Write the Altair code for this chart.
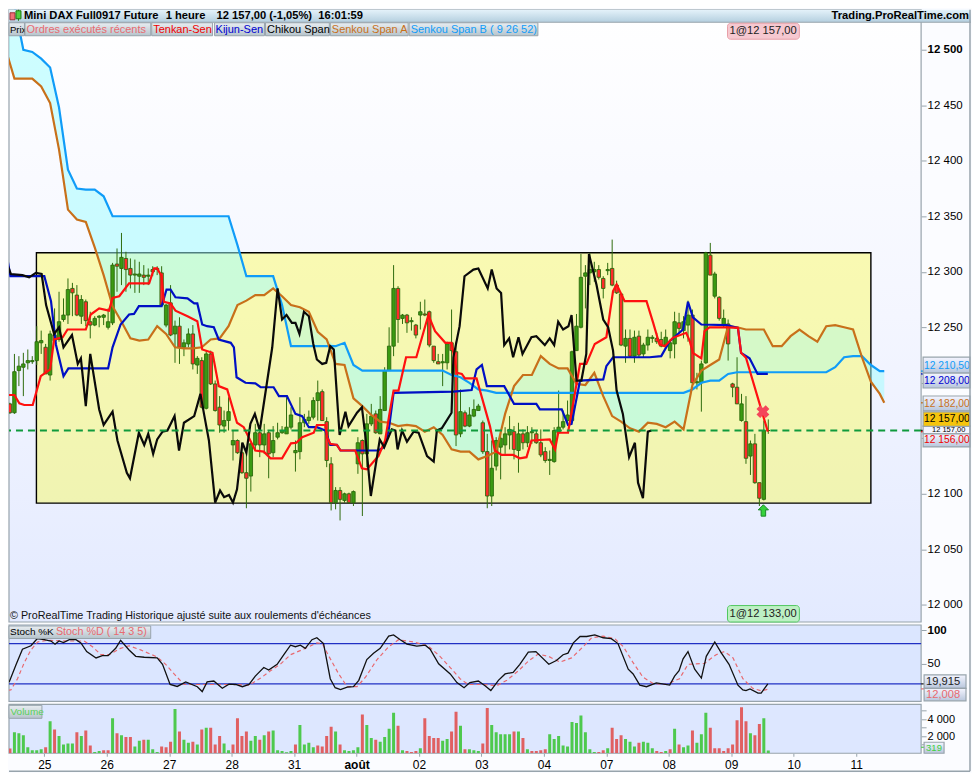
import altair as alt
import pandas as pd

opens = [12174,12181,12173,12211,12214,12218,12219,12220,12236,12232,
12207,12243,12239,12257,12261,12285,12279,12260,12273,12255,
12252,12259,12259,12250,12254,12307,12303,12312,12303,12297,
12296,12297,12296,12302,12302,12299,12252,12272,12244,12251,
12232,12235,12244,12216,12220,12177,12226,12199,12178,12161,
12166,12144,12148,12137,12119,12116,12144,12155,12144,12155,
12137,12151,12155,12154,12160,12137,12138,12164,12166,12169,
12184,12192,12165,12127,12092,12103,12094,12100,12092,12127,
12148,12136,12163,12172,12154,12175,12211,12233,12285,12258,
12261,12255,12252,12261,12262,12264,12233,12219,12218,12218,
12236,12228,12154,12173,12161,12170,12175,12164,12138,12098,
12125,12142,12144,12153,12156,12139,12154,12146,12155,12154,
12146,12138,12130,12129,12155,12160,12166,12166,12229,12250,
12296,12299,12300,12302,12294,12301,12303,12288,12280,12233,
12240,12224,12242,12226,12234,12240,12240,12239,12234,12229,
12235,12254,12247,12252,12261,12200,12200,12218,12315,12278,
12277,12252,12253,12199,12196,12166,12165,12134,12145,12110,
12095,12157]
closes = [12182,12173,12210,12215,12217,12220,12220,12237,12238,12208,
12244,12238,12255,12261,12284,12281,12261,12275,12256,12252,
12258,12260,12261,12255,12306,12305,12313,12302,12297,12298,
12298,12295,12297,12300,12303,12270,12270,12243,12251,12232,
12236,12244,12217,12222,12178,12226,12199,12175,12162,12166,
12174,12148,12137,12119,12114,12145,12155,12144,12154,12136,
12148,12155,12157,12160,12171,12139,12164,12167,12169,12184,
12191,12166,12130,12092,12103,12095,12100,12092,12102,12146,
12136,12163,12170,12155,12176,12211,12233,12285,12257,12261,
12254,12256,12243,12264,12261,12234,12220,12217,12219,12235,
12229,12153,12174,12161,12171,12176,12179,12138,12098,12123,
12148,12150,12154,12158,12140,12154,12146,12155,12156,12146,
12135,12130,12131,12157,12160,12165,12171,12228,12251,12295,
12299,12302,12302,12295,12285,12302,12288,12281,12234,12240,
12224,12241,12225,12234,12241,12241,12237,12233,12241,12236,
12255,12249,12255,12261,12200,12201,12217,12317,12297,12298,
12258,12258,12235,12196,12181,12181,12132,12145,12110,12096,
12157,12157]
highs = [12187,12182,12226,12224,12227,12230,12224,12251,12247,12235,
12247,12267,12282,12276,12294,12290,12288,12279,12275,12264,
12260,12261,12262,12267,12308,12321,12335,12318,12312,12311,
12309,12306,12303,12305,12305,12305,12271,12288,12256,12259,
12239,12249,12252,12224,12223,12229,12229,12202,12188,12175,
12187,12157,12149,12146,12140,12146,12163,12157,12163,12157,
12161,12164,12161,12187,12178,12148,12187,12172,12175,12187,
12202,12194,12169,12133,12106,12106,12101,12101,12103,12151,
12149,12172,12181,12175,12188,12214,12250,12306,12287,12262,
12262,12259,12253,12273,12275,12265,12233,12226,12226,12237,
12266,12237,12194,12175,12178,12185,12181,12166,12154,12148,
12151,12155,12160,12170,12161,12164,12158,12161,12160,12157,
12158,12142,12139,12160,12193,12175,12184,12229,12262,12316,
12306,12317,12309,12306,12296,12308,12329,12292,12281,12248,
12248,12247,12247,12236,12248,12243,12245,12246,12248,12239,
12264,12263,12260,12274,12266,12209,12220,12318,12326,12300,
12278,12266,12257,12200,12223,12190,12188,12148,12154,12110,
12166,12167]
lows = [12167,12172,12172,12197,12188,12212,12217,12216,12226,12208,
12202,12237,12237,12255,12253,12260,12260,12253,12251,12240,
12251,12250,12252,12248,12252,12282,12288,12282,12285,12281,
12281,12288,12288,12296,12297,12269,12250,12242,12218,12217,
12224,12232,12212,12208,12177,12176,12198,12174,12155,12155,
12157,12130,12136,12118,12087,12102,12139,12133,12136,12114,
12133,12149,12154,12154,12158,12120,12131,12160,12163,12167,
12166,12166,12124,12085,12086,12076,12092,12091,12089,12118,
12080,12124,12161,12154,12154,12175,12211,12224,12236,12253,
12245,12247,12240,12248,12260,12232,12218,12217,12197,12212,
12208,12143,12151,12160,12160,12169,12175,12136,12087,12089,
12121,12113,12136,12140,12131,12119,12140,12142,12145,12145,
12133,12128,12117,12128,12154,12158,12164,12164,12229,12249,
12267,12288,12291,12293,12276,12297,12287,12280,12233,12218,
12223,12218,12223,12223,12229,12236,12235,12232,12232,12222,
12222,12245,12240,12237,12199,12194,12174,12217,12297,12276,
12256,12250,12220,12187,12181,12165,12127,12117,12109,12089,
12094,12154]

cloud_x = [0,2,4,6,8,10,12,14,16,18,20,22,24,26,28,30,32,34,36,38,
40,42,44,46,48,50,52,54,56,58,60,62,64,66,68,70,72,74,76,78,
80,82,84,86,88,90,92,94,96,98,100,102,104,106,108,110,112,114,116,118,
120,122,124,126,128,130,132,134,136,138,140,142,144,146,148,150,152,154,156,158,
160,162,164,166,168,170,172,174,176,178,180,182,184,186,188,190,192,194,196,197]
senkou_a = [12501,12474,12474,12474,12467,12452,12410,12356,12347,12345,
12322,12297,12269,12255,12240,12238,12239,12251,12244,12232,
12231,12231,12232,12239,12240,12251,12270,12274,12279,12279,
12285,12278,12270,12268,12264,12246,12239,12217,12216,12186,
12179,12171,12165,12164,12161,12162,12161,12156,12160,12153,
12140,12138,12138,12131,12134,12138,12172,12197,12207,12207,
12224,12217,12213,12213,12199,12198,12209,12188,12170,12165,
12159,12156,12164,12163,12160,12165,12158,12198,12211,12216,
12221,12251,12250,12248,12248,12248,12233,12233,12242,12248,
12242,12237,12251,12252,12250,12248,12223,12201,12190,12182]
senkou_b = [12570,12540,12500,12498,12492,12484,12448,12392,12375,12374,
12374,12368,12350,12350,12350,12350,12350,12350,12350,12350,
12350,12350,12350,12350,12350,12350,12324,12296,12296,12296,
12296,12270,12233,12233,12233,12233,12233,12233,12236,12216,
12211,12211,12211,12211,12211,12211,12211,12211,12211,12211,
12207,12205,12200,12194,12193,12191,12191,12191,12191,12191,
12191,12191,12191,12191,12191,12191,12191,12191,12191,12191,
12191,12191,12191,12191,12191,12191,12191,12194,12200,12202,
12202,12208,12209.5,12209.5,12209.5,12209.5,12209.5,12209.5,12209.5,12209.5,
12209.5,12209.5,12209.5,12214,12223,12224,12224,12216,12210.5,12210.5]

tenkan_x = [-1,2,3.1,4.2,6.1,7.9,10,10.9,12.8,13.9,18,19.1,21,23.2,24,25.5,27.7,32.2,33.3,34,35,35.5,37,38.1,40.8,43,44.1,46.4,47.8,49.7,51.9,53.4,56,57.9,59.4,62,64,65.2,66.5,69.1,69.8,
71.7,72.1,72.8,74.3,75.1,78.4,79.9,81,83.6,85.1,86.2,87,88.1,89.8,92.1,94.8,96.3,98.6,100,101.2,102.3,103,105.6,108.6,109.7,111.2,113.8,115.3,116.8,117.9,122,123.2,123.9,126.1,128.8,130.2,132.1,134.7,136.2,137,138.8,143.7,
145.2,146.6,147.8,149.6,152.6,153.4,154.1,156,156.7,157.8,161.9,164.2,164.9,166,170.9]
tenkan_y = [12189,12189,12181.5,12180,12180,12206,12212,12239,12241,12248,12248,12261.5,12267,12265,12276.5,12278,12289.5,12289.5,12303,12303,12296,12273,12271.5,12265,12260,12255.5,12230,12227,12197,12194,12164,12160,12139,12138,12132,12132,12145.5,12146,12151,12155,12162,
12162,12151,12145,12144,12139,12139,12123,12122,12134,12148,12175,12193,12193,12223,12223,12261,12246.5,12236,12236,12209,12208,12204,12204,12161,12139,12135,12135,12132,12133,12148,12149,12140,12155,12155,12217,12217,12235,12241,12282.5,12288.5,12273.5,12273.5,
12254,12234.5,12233,12240.5,12245,12237.5,12227,12222,12246.5,12250,12250,12249.5,12227,12222.5,12156]

kijun_x = [-1,-0.25,1.1,8.7,10.2,11.3,13,14.1,23,24,25.8,27.7,28.8,29.9,35,36.1,37,38.1,40.8,42.3,43,44.1,45.2,46.7,47.8,50.5,51.2,51.8,53.8,56,57.2,60.1,61.3,63.1,65,66.5,68,69.8,71.7,72.8,
74.3,75.1,83.6,84.8,85.9,87,100.4,104.5,105.6,106.8,107.9,111.8,114,119,119.8,124.7,126.1,126.9,128.8,134,134.7,136.2,144.4,
147,148.9,151.9,153,154.1,156,161.6,164.2,164.9,166.8,168.6,170.9]
kijun_y = [12338,12327,12296,12296,12273.5,12234.5,12206,12213,12213,12232,12252.5,12261.5,12262,12269,12269,12284,12284,12277,12276,12271.5,12271.5,12252.5,12251,12250,12239,12236,12232,12205,12200,12199.5,12196,12196,12188,12188,12172,12170,12160,12160,12157,12144,
12144,12139,12139,12142,12157,12191,12192,12193.5,12212,12216,12197,12197,12181,12181,12176,12176,12162,12163,12202,12203,12215,12223,12223,
12224,12237.5,12248,12273,12259,12252.5,12252,12249.5,12227,12222,12208,12208]

chikou_x = [-1,-0.1,1.2,3.8,5.3,6.8,8.1,9.1,10.9,12,13,14.9,16.2,16.9,18,19,21,22,24,25.1,27.2,27.9,29.9,31.1,32,33.1,34,35.2,36.3,37.9,38.9,40,42.3,43.7,44.5,45.6,47,48.1,49,50.1,51,51.9,53.1,54,54.9,55.9,57,59.8,61,62,63,64.2,65,65.9,66.9,68,69,69.8,71,71.9,72.8,
73.6,74.9,76.2,76.9,78.8,79.9,80.7,81.9,83.9,84.9,86.6,87.4,87.9,88.9,90,91.5,92.6,94.5,96,96.7,97.8,100,100.4,101.8,102.9,104.9,106,108.1,109,110.1,111.1,111.8,112.9,113.8,115,115.9,117.9,119,120.9,122,123,123.9,125,126.2,126.9,128,129.1,130.2,130.8,132.5,134,135.1,136.2,137,138.4,139.8,141.1,141.8,142.9,144,144.8]
chikou_y = [12305,12312,12298,12297,12295,12299,12298,12270,12244,12250,12232,12243,12217,12222,12179,12226,12176,12162,12174,12148,12119,12114,12155,12144,12154,12136,12149,12156,12157,12170,12139,12164,12170,12190,12172,12148,12092,12103,12097,12099,12092,12104,12146,12137,12163,12172,12157,12232,12285,12257,12261,12254,12254,12244,12264,12260,12235,12221,12217,12218,12233,
12230,12153,12174,12161,12173,12178,12151,12098,12149,12142,12158,12157,12140,12157,12147,12156,12155,12134,12129,12157,12159,12173,12223,12251,12296,12302,12303,12285,12302,12285,12281,12234,12240,12223,12241,12226,12241,12242,12234,12240,12234,12255,12248,12251,12261,12202,12202,12226,12316,12288,12257,12250,12229,12193,12172,12133,12146,12110,12096,12156,12157]

stoch_k_x = [-1,0.9,2.4,3.8,5.7,7.1,8.7,10.2,11.1,12,13,14.3,15.8,16.9,18.2,20.3,21.7,23,24.7,25.8,27.7,29.2,31.1,34,35.2,36.9,38.5,40.4,43,44.1,45.2,46.7,48.6,50.1,51.6,53.1,54.6,56,57.9,59,60.9,62.4,63.9,65,66.1,67.2,68.7,69.8,71.3,72.8,73.9,75.1,76.6,78,79.2,81,82.5,84,85.9,87,88.5,
90,92.2,94.1,95.2,97.1,99.7,101.2,102.8,104.1,106,107.5,108.8,110.5,112,113.8,115.3,117.2,118.9,121.8,123.5,125,126.1,127.3,128.8,130.3,132.1,134,135.8,137.3,139.6,140.7,142.2,143.7,145.9,148.9,150,151,151.9,153,154.5,156,157.1,159,160.5,162.2,164.2,165.3,166,166.9,168.7,169.4,170.9]
stoch_k_y = [9.6,23.9,49.1,71.5,76.7,87.2,85.7,83.8,79.1,83.8,81.4,85.7,85.7,81,68.1,58.6,61.9,61.9,72.9,84.8,70.5,61,59.6,58.6,49.1,19.1,16.2,22.9,15.8,8.6,22.9,24.3,13.4,19.6,19.1,15.8,19.1,31.5,44.3,40.5,49.1,63.4,77.6,75.3,77.6,72.9,85.7,88.6,80,27.7,14.3,11.5,15.3,15.8,25.3,56.2,65.7,72.9,91,92.9,85.7,
79.1,76.2,77.6,71.5,50,34.8,22,14.3,22,24.3,17.2,10,25.3,34.8,37.2,49.1,67.2,68.1,49.1,54.8,63.4,65.7,81,90.5,90.5,92.9,88.6,87.2,80,41.9,34.8,18.1,15.8,21.5,18.1,31.5,39.6,57.2,68.1,41.9,28.6,61,82.4,65.7,49.1,18.1,11,10,12.4,6.2,6.2,19.9]
stoch_d_x = [-1,1.2,2.7,4.2,5.7,7.2,9.4,13.9,17.6,19.5,21.4,23.2,25.8,27.7,30.3,34,35.9,37.8,40,43.7,48.2,51.2,54.6,57.2,59.4,61.6,63.9,66.9,69.8,71,72.5,74.7,76.6,78.8,80.7,83.3,85.9,88.1,
91.5,94.8,97.4,99.7,101.9,103.8,107.1,110.1,112.4,115,117.2,119.4,121.7,124.3,126.9,129.5,131.4,134,136.6,138.5,140.7,142.9,145.2,148.1,151.1,153,156.7,159.3,161.2,163.1,165.3,167.5,169.4,170.9]
stoch_d_y = [9.6,11,27.7,51.5,70.5,82.4,84.8,83.8,83.8,75.3,63.4,63.4,72.9,76.7,70.5,60,49.1,34.8,19.1,19.1,19.1,19.1,18.1,28.6,39.6,49.1,63.4,71.9,81,80,61,34.8,15.8,15.8,30,56.2,75.3,85.7,
82.4,76.2,61,44.3,27.7,19.1,19.1,17.2,25.3,39.6,53.8,64.3,61,52.4,58.6,75.3,88.6,91,87.2,75.3,51.5,30,20.5,19.1,27.7,49.1,50.5,63.4,68.1,58.6,27.7,13.4,9.6,12]

volumes = [1028,550,2459,2349,2129,697,367,367,477,697,
3780,2789,2019,1028,1138,1138,2459,2019,2679,918,
147,257,367,367,4110,2349,2129,1908,1908,807,
1468,1578,1578,477,147,807,697,1358,5211,2569,
1578,1248,1358,1028,2789,3009,3009,1028,2019,1138,
367,1028,4110,2019,2569,1468,2019,1578,2129,2569,
2679,367,257,110,257,1028,3340,1028,1248,697,
918,807,2019,3120,2569,1028,367,257,367,697,
4551,3340,1798,1578,1358,1908,2899,4771,3230,
367,257,147,257,587,4110,2019,1798,1798,1468,
1688,2569,4881,3230,477,477,367,257,1138,5322,
3340,2459,2239,2239,2239,2569,2569,1798,477,257,
257,367,477,2239,1688,2019,918,807,3670,3560,
4441,2459,477,147,147,367,587,3009,1688,2129,
1688,1358,807,1248,1358,1248,587,257,147,257,
477,2899,1028,697,918,2679,1248,2239,4771,3009,
587,587,257,587,1028,3890,5432,3780,2349,2129,
3450,4110,319]
vol_dirs = ("GRGGGGGGGR" "GRGGGGRGRR" "GGRRGRGRRG" "GRGGGRRRGR" "GGRGRGRRRG" "GRRRRGGRGR" "GGGGGRGGGG" "RRRRGRGGGG" "RGGRGGGGR"
            "GRRRGRRRRG" "GRRGRGGGRR" "GGGGGRGRGR" "RRRGGGGGGG" "GGGGRRGRRR" "GGGRGGGRRG" "RGRGGRGGGR" "RRRRRRRRGR" "RGG")

day_ticks = [8.7,22.7,36.7,50.7,64.7,78.7,92.7,106.7,120.7,134.7,148.7,162.7,176.7,190.7]
day_labels = ['25','26','27','28','31','août','02','03','04','07','08','09','10','11']
price_ticks = [12500,12450,12400,12350,12300,12250,12200,12150,12100,12050,12000]

FONT = 'Liberation Sans'
GRAY = '#98a4ac'
RIGHT = 963
ST_H = 76.5
VO_H = 49
bars = pd.DataFrame({'i': list(range(len(opens))), 'o': opens, 'c': closes, 'h': highs, 'l': lows})
bars['dir'] = ['G' if c >= o else 'R' for o, c in zip(opens, closes)]
cloud = pd.DataFrame({'i': cloud_x, 'A': senkou_a, 'B': senkou_b})
cloud['top'] = cloud[['A', 'B']].max(axis=1)
vol = pd.DataFrame({'i': list(range(len(volumes))), 'v': volumes, 'dir': list(vol_dirs)})

x_scale = alt.Scale(domain=[0.783, 205.26], nice=False, zero=False, padding=0)
py = alt.Scale(domain=[11984.5, 12536], nice=False, zero=False)
sy = alt.Scale(domain=[-6, 107.57], nice=False, zero=False)
vy = alt.Scale(domain=[0, 5760], nice=False, zero=False)
X = alt.X('i:Q', scale=x_scale, axis=None)
one = pd.DataFrame({'a': [0]})

yaxis = alt.Axis(orient='right', values=price_ticks, title=None, grid=False, domain=False, tickColor=GRAY, tickSize=5,
                 labelFont=FONT, labelFontSize=11.5, labelColor='black', labelPadding=1,
                 labelFontWeight=alt.condition('datum.value == 12500', alt.value('bold'), alt.value('normal')),
                 labelExpr="datum.value == 12200 || datum.value == 12150 ? '' : replace(format(datum.value, ','), ',', ' ')")
st_axis = alt.Axis(orient='right', values=[50, 100], title=None, grid=False, domain=False, tickColor=GRAY, tickSize=5,
                   labelFont=FONT, labelFontSize=11.5, labelColor='black', labelPadding=1,
                   labelFontWeight=alt.condition('datum.value == 100', alt.value('bold'), alt.value('normal')))
Y = alt.Y('p:Q', scale=py, axis=yaxis)


def grad(*cols):
    n = len(cols) - 1
    return alt.LinearGradient(gradient='linear', x1=0, x2=0, y1=0, y2=1,
                              stops=[alt.GradientStop(color=c, offset=k / n) for k, c in enumerate(cols)])


def box(x1, x2, y1, y2, fill, stroke=None, sw=1, r=0):
    kw = {'fill': fill}
    if stroke:
        kw.update(stroke=stroke, strokeWidth=sw)
    if r:
        kw.update(cornerRadius=r)
    return alt.Chart(one).mark_rect(**kw).encode(x=alt.value(x1), x2=alt.value(x2), y=alt.value(y1), y2=alt.value(y2))


def txt(s, x, y, size=11, color='black', weight='normal', align='left'):
    return alt.Chart(one).mark_text(text=s, font=FONT, fontSize=size, fontWeight=weight, color=color,
                                    align=align, baseline='middle').encode(x=alt.value(x), y=alt.value(y))


def seg(x1, x2, y1, y2, color=GRAY, sw=1):
    return alt.Chart(one).mark_rule(color=color, strokeWidth=sw).encode(
        x=alt.value(x1), x2=alt.value(x2), y=alt.value(y1), y2=alt.value(y2))


def pline(xs, ys, color, sw=2.2, scale=py, axis=yaxis, dash=None):
    kw = {'color': color, 'strokeWidth': sw, 'clip': True}
    if dash:
        kw['strokeDash'] = dash
    return alt.Chart(pd.DataFrame({'i': xs, 'p': ys})).mark_line(**kw).encode(
        x=X, y=alt.Y('p:Q', scale=scale, axis=axis))


def level(v, color):
    return alt.Chart(pd.DataFrame({'p': [v]})).mark_rule(color=color, strokeWidth=1.5).encode(
        x=alt.value(914), x2=alt.value(916), y=Y)


# --- price panel -----------------------------------------------------------
bg = box(0, 914, 0, 613.5, grad('#ffffff', '#f4f6ff', '#e3eaff'), stroke=GRAY, sw=1.2)
chan = alt.Chart(pd.DataFrame({'i': [6.93], 'i2': [194.0], 'top': [12317.2], 'bot': [12091.6]})).mark_rect(
    fill='#ffff00', fillOpacity=0.3, stroke='black', strokeWidth=1.4).encode(
    x=X, x2='i2:Q', y=alt.Y('top:Q', scale=py, axis=yaxis), y2='bot:Q')
c1 = alt.Chart(cloud).mark_area(color='#9dfdff', opacity=0.5, clip=True).encode(
    x=X, y=alt.Y('top:Q', scale=py, axis=yaxis), y2='A:Q')
c2 = alt.Chart(cloud).mark_area(color='#c8fad2', opacity=0.7, clip=True).encode(
    x=X, y=alt.Y('top:Q', scale=py, axis=yaxis), y2='B:Q')
wick = alt.Chart(bars).mark_rule(color='#2f6b0e', strokeWidth=1, clip=True).encode(
    x=X, y=alt.Y('l:Q', scale=py, axis=yaxis), y2='h:Q')
body = alt.Chart(bars).mark_bar(size=3.4, stroke='#2c6a0c', strokeWidth=0.9, clip=True).encode(
    x=X, y=alt.Y('o:Q', scale=py, axis=yaxis), y2='c:Q',
    fill=alt.Fill('dir:N', scale=alt.Scale(domain=['G', 'R'], range=['#3a9a12', '#ff2a2a']), legend=None))
dash = alt.Chart(pd.DataFrame({'p': [12157]})).mark_rule(color='#0f9a3c', strokeWidth=2, strokeDash=[7, 5]).encode(y=Y)
cross = alt.Chart(pd.DataFrame({'i': [169.8], 'p': [12174]})).mark_point(
    shape='cross', angle=45, filled=True, opacity=1, size=170, color='#f4465a').encode(x=X, y=Y)
arrow = alt.Chart(pd.DataFrame({'i': [169.9], 'p': [12085]})).mark_point(
    shape='M0,-1 L0.9,-0.1 L0.4,-0.1 L0.4,1 L-0.4,1 L-0.4,-0.1 L-0.9,-0.1 Z', filled=True, opacity=1, size=130,
    color='#36d23c', stroke='#1c8a28', strokeWidth=1).encode(x=X, y=Y)

HDR = grad('#e4f2fa', '#b4cfdf')
BTN = grad('#e8edf1', '#b6c4cc')
BOX = grad('#f4f5ff', '#b8c6dc')
hdr_y = 6
buttons = [('Prix', 0, 15.5, 'black', 9.5, 1), ('Ordres exécutés récents', 16, 142, '#e86a70', 11, 17.5),
           ('Tenkan-Sen', 143, 204, '#f00000', 11, 144.5), ('Kijun-Sen', 206, 256, '#0000d0', 11, 207),
           ('Chikou Span', 257, 321, 'black', 11, 258.5), ('Senkou Span A', 322, 400, '#c8701a', 11, 323.5),
           ('Senkou Span B ( 9 26 52)', 401, 530, '#109cf8', 11, 402.5)]
layers = [bg, chan, c1, c2, wick, body,
          pline(cloud_x, senkou_b, '#109cf8'), pline(cloud_x, senkou_a, '#c8701a'),
          pline(kijun_x, kijun_y, '#0010c4'), pline(tenkan_x, tenkan_y, '#ff1010'),
          pline(chikou_x, chikou_y, '#0a0a0a'), dash, cross, arrow,
          box(0, RIGHT + 1, 0, 12.5, HDR), seg(0, RIGHT + 1, 12.5, 12.5, GRAY, 1.2),
          box(1, 6, 3, 10, '#f07078', '#a03038'), seg(9.5, 9.5, 0, 11, '#1c7a10'),
          box(7, 12, 1, 9, '#50d040', '#1c7a10'),
          txt('Mini DAX Full0917 Future', 15, hdr_y, 11.2, 'black', 'bold'),
          txt('1 heure', 157, hdr_y, 11.2, 'black', 'bold'),
          txt('12 157,00 (-1,05%)', 208, hdr_y, 11.2, 'black', 'bold'),
          txt('16:01:59', 310, hdr_y, 11.2, 'black', 'bold'),
          txt('Trading.ProRealTime.com', RIGHT - 1, hdr_y, 11.2, 'black', 'bold', 'right')]
for label, a, b, col, size, tx in buttons:
    layers += [box(a, b, 13, 26, BTN, GRAY), txt(label, tx, 19.8, size, col)]
layers += [box(720, 792, 13.5, 29.5, '#f6c8d0', '#e8a0a8', 1, 3), txt('1@12 157,00', 722, 21.5, 11.2, '#222'),
           box(720, 792, 597, 613.5, '#bdf0c4', '#50c860', 1, 3), txt('1@12 133,00', 722, 605.5, 11.2, '#222'),
           txt("© ProRealTime Trading  Historique ajusté suite aux roulements d'échéances", 1, 607, 10.8, '#111')]
layers += [level(12210.5, '#109cf8'), level(12208, '#0010c4'), level(12182, '#c8701a'), level(12157, '#111111'),
           level(12156, '#e01010')]
BX1, BX2, TX, FS = 916, 963, 917, 10.3
layers += [box(BX1, BX2, 348, 364, BOX, GRAY, 1.2), txt('12 210,50', TX, 356.5, FS, '#109cf8'),
           box(BX1, BX2, 364, 379, BOX, GRAY, 1.2), txt('12 208,00', TX, 372, FS, '#0000d0'),
           box(BX1, BX2, 387, 402, BOX, GRAY, 1.2), txt('12 182,00', TX, 395, FS, '#c8701a'),
           box(BX1, BX2, 417, 425, '#f4f5ff', GRAY, 1.2), txt('12 157,00', TX + 8, 421.3, 7.5, 'black'),
           box(BX1, BX2, 403, 417.5, '#f6c40c', GRAY, 1.2), txt('12 157,00', TX, 410.5, FS, 'black'),
           box(BX1, BX2, 425, 438, BOX, GRAY, 1.2), txt('12 156,00', TX, 431.5, FS, '#f00000'),
           seg(RIGHT, RIGHT, 0, 763, GRAY, 1.5), seg(0, RIGHT, 763, 763, GRAY, 1.5)]
price = alt.layer(*layers).properties(width=914, height=613.5)

# --- stochastic panel ------------------------------------------------------
hl = alt.Chart(pd.DataFrame({'p': [80, 20]})).mark_rule(color='#2030c4', strokeWidth=1.3).encode(
    y=alt.Y('p:Q', scale=sy, axis=st_axis))
stoch = alt.layer(
    box(0, 914, 0, ST_H, '#dbe6ff', GRAY, 1.2), hl,
    pline(stoch_d_x, stoch_d_y, '#e86a70', 1.2, sy, st_axis, [4, 3]),
    pline(stoch_k_x, stoch_k_y, '#111111', 1.3, sy, st_axis),
    box(0, 142, 1, 13.5, BTN, GRAY),
    txt('Stoch %K', 1, 7.5, 10, 'black'), txt('Stoch %D ( 14 3 5)', 47, 7.5, 10.8, '#e86a70'),
    seg(914, 917, 59, 59, '#111111', 1.2), seg(914, 917, 64, 64, '#e86a70', 1.2),
    box(917, 959, 50, 63.5, BOX, GRAY, 1.2), txt('19,915', 919, 57, 11.2, '#222'),
    box(917, 959, 63.5, 76, BOX, GRAY, 1.2), txt('12,008', 919, 70, 11.2, '#e86a70'),
).properties(width=914, height=ST_H)

# --- volume panel ----------------------------------------------------------
v_axis = alt.Axis(orient='right', values=[1000, 2000, 3000, 4000, 5000], title=None, grid=False, domain=False,
                  tickColor=GRAY, tickSize=5, labelFont=FONT, labelFontSize=11, labelColor='black', labelPadding=1,
                  labelExpr="datum.value % 2000 == 0 ? replace(format(datum.value, ','), ',', ' ') : ''")
labs = '[' + ','.join("'%s'" % s for s in day_labels) + ']'
x_axis = alt.Axis(values=day_ticks, title=None, grid=False, domain=False, tickColor=GRAY, tickSize=3,
                  labelFont=FONT, labelFontSize=12, labelColor='black', labelPadding=3,
                  labelFontWeight=alt.condition('datum.value == 78.7', alt.value('bold'), alt.value('normal')),
                  labelExpr=labs + '[round((datum.value - 8.7) / 14)]')
vbars = alt.Chart(vol).mark_bar(size=3, clip=True).encode(
    x=alt.X('i:Q', scale=x_scale, axis=x_axis),
    y=alt.Y('v:Q', scale=vy, axis=v_axis),
    color=alt.Color('dir:N', scale=alt.Scale(domain=['G', 'R'], range=['#4ec94e', '#e06062']), legend=None))
volume = alt.layer(
    box(0, 914, 0, VO_H, '#dde7ff', GRAY, 1.2), vbars,
    box(0, 33, 1, 14, BTN, GRAY), txt('Volume', 1.5, 7.5, 10, '#58d058'),
    seg(914, 917, 43, 43, '#4ec94e', 1.2),
    box(917, 937, 38, 49, BOX, GRAY, 1.2), txt('319', 919, 44, 9.5, '#40d040'),
).properties(width=914, height=VO_H)

chart = alt.vconcat(price, stoch, volume, spacing=2.5, bounds='flush').properties(
    padding=0, background='#fbfcff').configure_view(stroke=None)

chart.save("out.html", embed_options={"renderer": "svg", "actions": False})
